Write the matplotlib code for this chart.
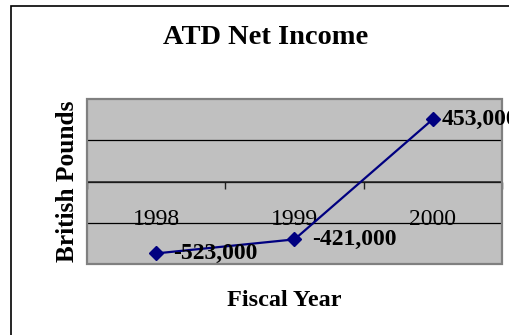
import matplotlib
matplotlib.use("Agg")
import matplotlib.pyplot as plt
from matplotlib.patches import Rectangle
from matplotlib.ticker import FixedLocator, NullFormatter

plt.rcParams['font.family'] = ['Liberation Serif', 'DejaVu Serif']

# Net income by fiscal year (British pounds)
years = ['1998', '1999', '2000']
net_income = [-523000, -421000, 453000]
value_labels = ['-523,000', '-421,000', '453,000']

W, H, DPI = 510, 335, 100
fig = plt.figure(figsize=(W / DPI, H / DPI), dpi=DPI)
fig.patch.set_facecolor('white')

def fx(px):
    return px / W

def fy(py):
    return 1 - py / H

# chart border (runs off the right and bottom edges)
fig.add_artist(Rectangle((fx(11), fy(340)), fx(520) - fx(11), fy(6) - fy(340),
                         transform=fig.transFigure, fill=False,
                         edgecolor='black', linewidth=1.2, clip_on=False))

left, right, top, bottom = 87, 502, 99, 264
ax = fig.add_axes([fx(left), fy(bottom), fx(right) - fx(left), fy(top) - fy(bottom)])
ax.set_facecolor('#C0C0C0')

x = [i + 0.5 for i in range(len(years))]
ax.set_xlim(0, len(years))
ax.set_ylim(-600000, 600000)

# horizontal gridlines
ax.set_yticks([-300000, 0, 300000])
ax.yaxis.set_major_formatter(NullFormatter())
ax.tick_params(axis='y', length=0)
ax.grid(axis='y', color='black', linewidth=0.9)
ax.set_axisbelow(True)

# category axis crossing at zero
for s in ('left', 'right', 'top'):
    ax.spines[s].set_visible(False)
ax.spines['bottom'].set_position(('data', 0))
ax.spines['bottom'].set_color('#222222')
ax.spines['bottom'].set_linewidth(1.1)
ax.xaxis.set_major_locator(FixedLocator(range(len(years) + 1)))
ax.xaxis.set_major_formatter(NullFormatter())
ax.tick_params(axis='x', which='major', direction='out', length=5, width=1, color='#222222')
ax.set_xticks(x, minor=True)
ax.set_xticklabels(years, minor=True)
ax.tick_params(axis='x', which='minor', length=0, pad=20, labelsize=17)

# plot-area frame
ax.add_patch(Rectangle((0, 0), 1, 1, transform=ax.transAxes, fill=False,
                       edgecolor='#808080', linewidth=1.6, clip_on=False, zorder=5))

ax.plot(x, net_income, color='#000080', linewidth=1.6, marker='D',
        markersize=7, markerfacecolor='#000080', markeredgecolor='#000080',
        clip_on=False, zorder=6)

offsets = [12, 13, 6]
for xi, yi, lab, off in zip(x, net_income, value_labels, offsets):
    ax.annotate(lab, (xi, yi), xytext=(off, 0), textcoords='offset points',
                ha='left', va='center', fontsize=17, fontweight='bold',
                color='black', annotation_clip=False, zorder=7)

fig.text(fx(266), fy(37), 'ATD Net Income', ha='center', va='center',
         fontsize=20.5, fontweight='bold')
fig.text(fx(67), fy(181), 'British Pounds', ha='center', va='center',
         rotation=90, fontsize=18.3, fontweight='bold')
fig.text(fx(284), fy(301), 'Fiscal Year', ha='center', va='center',
         fontsize=17.5, fontweight='bold')

fig.savefig('out.png', dpi=DPI)
